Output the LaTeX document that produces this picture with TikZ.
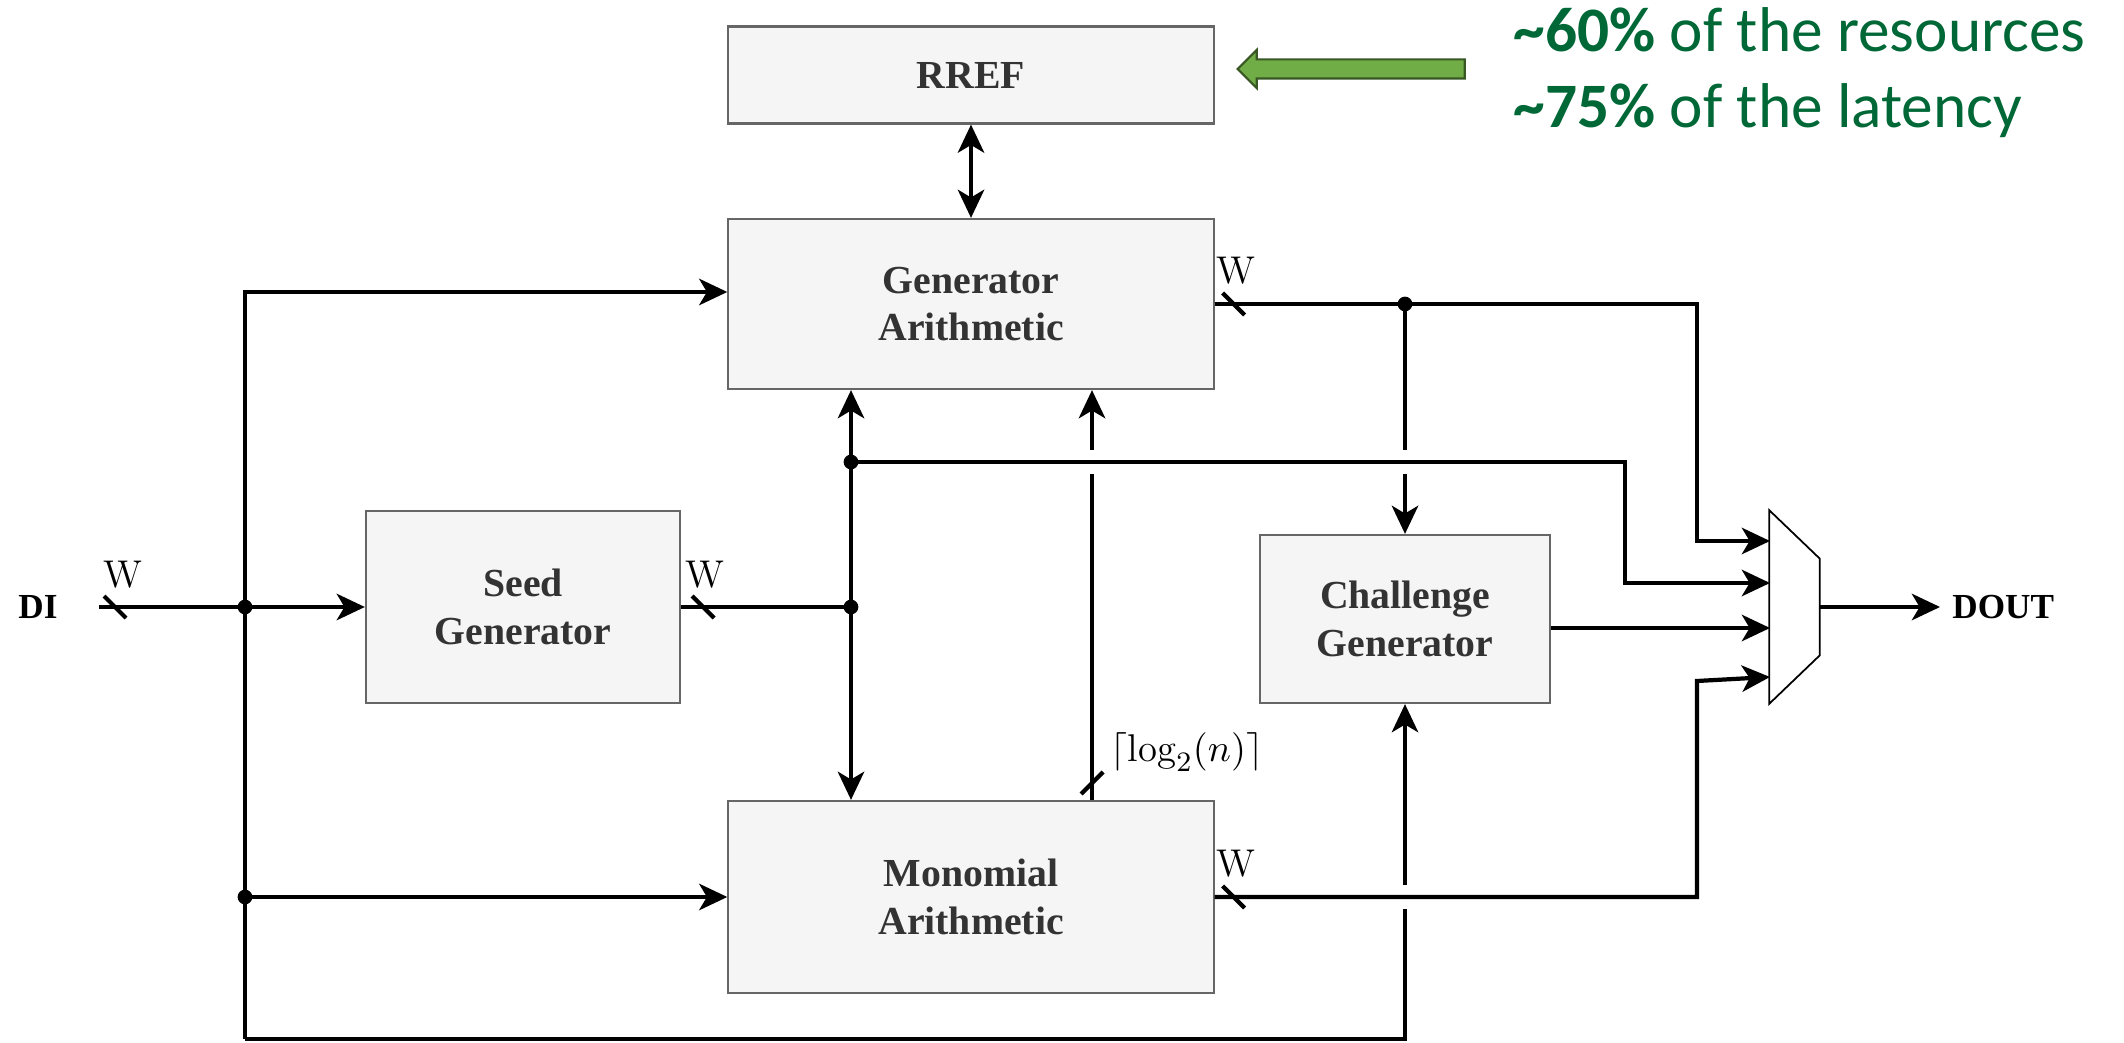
\documentclass[tikz,border=0pt]{standalone}
\usepackage{fontspec}
\usepackage{amsmath}
\usetikzlibrary{arrows.meta,positioning,calc,shapes.arrows}
\newfontfamily\blockfont{Liberation Serif}
\newfontfamily\notefont{Carlito}
\definecolor{blockfill}{HTML}{F5F5F5}
\definecolor{blockdraw}{HTML}{666666}
\definecolor{blocktext}{HTML}{333333}
\definecolor{notegreen}{HTML}{006837}
\definecolor{arrowfill}{HTML}{70AD47}
\definecolor{arrowdraw}{HTML}{385723}
\tikzset{
  block/.style={draw=blockdraw,fill=blockfill,line width=0.6pt,text=blocktext,align=center,inner sep=0pt,
    font=\blockfont\bfseries\fontsize{11.3}{13.5}\selectfont},
  port/.style={font=\blockfont\bfseries\fontsize{10}{12}\selectfont},
  bus/.style={font=\fontsize{11}{13}\selectfont,inner sep=0pt},
  wire/.style={line width=1.2pt},
  tip/.style={-{Stealth[length=8pt,width=7.5pt,inset=2.2pt]}},
  arr/.style={wire,tip},
  dot/.style={circle,fill,inner sep=0pt,minimum size=4.2pt},
  hbus/.pic={\draw[line width=1.2pt] (-11,-11) -- (11,11);},
  vbus/.pic={\draw[line width=1.2pt] (-11,11) -- (11,-11);},
  note/.style={text=notegreen,anchor=base west,inner sep=0pt,font=\notefont\fontsize{18}{21}\selectfont}
}

\begin{document}
\begin{tikzpicture}[x=0.01cm,y=-0.01cm]
\useasboundingbox (0,0) rectangle (2124,1043);

% blocks
\node[block,minimum width=4.85cm,minimum height=0.97cm] (rref) at (971,75) {RREF};
\node[block,minimum width=4.85cm,minimum height=1.70cm] (gen) at (971,304) {Generator\\Arithmetic};
\node[block,minimum width=3.14cm,minimum height=1.92cm] (seed) at (523,607) {Seed\\Generator};
\node[block,minimum width=2.90cm,minimum height=1.68cm] (chal) at (1405,619) {Challenge\\Generator};
\node[block,minimum width=4.85cm,minimum height=1.92cm] (mono) at (971,897) {Monomial\\Arithmetic};
\node[minimum width=0.49cm,minimum height=1.92cm,inner sep=0pt] (mux) at (1794.5,607) {};
\draw[line width=0.5pt] (mux.north west) -- ($(mux.north east)!0.25!(mux.south east)$)
  -- ($(mux.north east)!0.75!(mux.south east)$) -- (mux.south west) -- cycle;

\node[port] (di) at (38,607) {DI};
\node[port,anchor=west] (dout) at (1940,607) {DOUT};

\coordinate (din) at (99,607);
\coordinate (jin) at (245,607);
\coordinate (ltop) at (245,292);
\coordinate (jlow) at (245,897);
\coordinate (lbot) at (245,1039);
\coordinate (jseed) at (851,607);
\coordinate (jmid) at (851,462);
\coordinate (xlog) at (1092,783);
\coordinate (bendm) at (1625,0);
\coordinate (bendg) at (1697,0);
\coordinate (bendo) at (1697,681);
\coordinate (in1) at (1770,541);
\coordinate (in2) at (1770,583);
\coordinate (in3) at (1770,628);
\coordinate (in4) at (1770,677);

% input side
\draw[wire] (din) -- (jin);
\draw[arr] (jin) -- (seed.west);
\draw[arr] (lbot) -- (ltop) -- (ltop -| gen.west);
\draw[arr] (jlow) -- (mono.west);
\draw[wire] (lbot) -- (lbot -| chal.south) -- ($(chal.south |- mono.east)+(0,12)$);
\draw[arr] ($(chal.south |- mono.east)+(0,-12)$) -- (chal.south);

% seed output
\draw[wire] (seed.east) -- (jseed);
\draw[arr] (jseed) -- (gen.south -| jseed);
\draw[arr] (jseed) -- (mono.north -| jseed);
\draw[arr] (jmid) -- (jmid -| bendm) -- (bendm |- in2) -- (in2);

% monomial to generator
\draw[wire] (mono.north -| xlog) -- ($(xlog |- jmid)+(0,12)$);
\draw[arr] ($(xlog |- jmid)+(0,-12)$) -- (gen.south -| xlog);

% generator output
\draw[arr] (gen.east) -- (gen.east -| bendg) -- (bendg |- in1) -- (in1);
\draw[wire] (gen.east -| chal.north) -- ($(chal.north |- jmid)+(0,-12)$);
\draw[arr] ($(chal.north |- jmid)+(0,12)$) -- (chal.north);

% to the mux
\draw[arr] (mono.east) -- (mono.east -| bendg) -- (bendo) -- (in4);
\draw[arr] ($(chal.east)+(0,9)$) -- (in3);
\draw[arr] (mux.east) -- (dout.west);
\draw[wire,{Stealth[length=8pt,width=7.5pt,inset=2.2pt]}-{Stealth[length=8pt,width=7.5pt,inset=2.2pt]}] (rref) -- (gen);

\node[dot] (d1) at (jin) {};
\node[dot] (d2) at (jlow) {};
\node[dot] (d3) at (jseed) {};
\node[dot] (d4) at (jmid) {};
\node[dot] (d5) at (gen.east -| chal.north) {};

% bus widths
\pic at ($(din)+(16,0)$) {hbus};
\pic at ($(seed.east)+(22,0)$) {hbus};
\pic at ($(gen.east)+(19,0)$) {hbus};
\pic at ($(mono.east)+(19,0)$) {hbus};
\pic at (xlog) {vbus};
\node[bus] (wdi) at (123,575) {W};
\node[bus] (wseed) at (705,575) {W};
\node[bus] (wgen) at (1236,271) {W};
\node[bus] (wmono) at (1236,864) {W};
\node[bus,anchor=west] (wlog) at (1110,752) {$\lceil \log_2(n) \rceil$};

% note
\node[single arrow,shape border rotate=180,fill=arrowfill,draw=arrowdraw,line width=0.6pt,inner sep=0pt,
  inner ysep=0.085cm,minimum height=2.27cm,single arrow head extend=0.095cm] (hint) at (1356,69) {};
\node[note] (note1) at (1513,52) {\textbf{\textasciitilde60\%} of the resources};
\node[note] (note2) at (1513,128) {\textbf{\textasciitilde75\%} of the latency};
\end{tikzpicture}
\end{document}
